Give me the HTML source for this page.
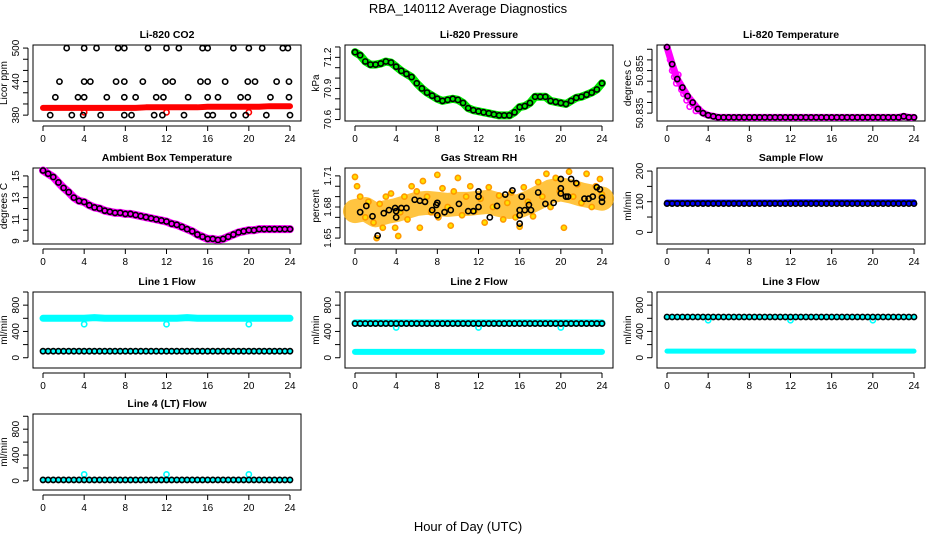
<!DOCTYPE html>
<html><head><meta charset="utf-8">
<style>
html,body{margin:0;padding:0;background:#fff;}
svg{display:block;font-family:"Liberation Sans",sans-serif;}
</style></head>
<body>
<svg id="chart" width="936" height="540" viewBox="0 0 936 540">
<text x="468" y="13" text-anchor="middle" font-size="13">RBA_140112  Average Diagnostics</text>
<text x="468" y="531" text-anchor="middle" font-size="13">Hour of Day (UTC)</text>
</svg>
<script>
const hh=[0,0.5,1,1.5,2,2.5,3,3.5,4,4.5,5,5.5,6,6.5,7,7.5,8,8.5,9,9.5,10,10.5,11,11.5,12,12.5,13,13.5,14,14.5,15,15.5,16,16.5,17,17.5,18,18.5,19,19.5,20,20.5,21,21.5,22,22.5,23,23.5,24];
const hours=[0,1,2,3,4,5,6,7,8,9,10,11,12,13,14,15,16,17,18,19,20,21,22,23,24];
const xTicks=[0,4,8,12,16,20,24];
// CO2
const co2Red=[393,393,393,393,393,393,393,393,393,393,394,394,394,394,394,394,395,395,395,395,395,395,396,396,396];
const co2BlackX=[2.3,4,5.2,7.3,7.9,10.2,12,13.2,15.5,16,18.5,20,21.3,23.3,23.8, 1.6,4,4.6,7.1,7.9,9.7,11.9,12.6,15.3,16,17.7,19.9,20.6,22.7,23.9, 1.2,3.4,4,6.2,7.9,9,11,11.7,14.1,16,17,19.2,19.9,22.1,23.9, 0.7,2.8,3.9,5.6,7.9,8.6,10.8,11.6,13.7,16,16.5,18.5,19.7,21.7,24];
const co2BlackY=[500,500,500,500,500,500,500,500,500,500,500,500,500,500,500, 440,440,440,440,440,440,440,440,440,440,440,440,440,440,440, 412,412,412,412,412,412,412,412,412,412,412,412,412,412,412, 380,380,380,380,380,380,380,380,380,380,380,380,380,380,380];
const co2SpikeX=[4,12,20];
const co2SpikeY=[385,385,385];
// Pressure
const pressure=[71.25,71.22,71.16,71.13,71.13,71.14,71.16,71.15,71.11,71.07,71.04,71.01,70.95,70.9,70.86,70.83,70.8,70.78,70.79,70.8,70.79,70.76,70.71,70.69,70.68,70.67,70.66,70.65,70.64,70.64,70.64,70.67,70.72,70.73,70.76,70.82,70.82,70.82,70.78,70.77,70.76,70.75,70.78,70.81,70.82,70.84,70.86,70.89,70.95];
// Li-820 temperature
const liTemp=[50.866,50.858,50.851,50.847,50.843,50.84,50.837,50.835,50.834,50.8335,50.833,50.833,50.833,50.833,50.833,50.833,50.833,50.833,50.833,50.833,50.833,50.833,50.833,50.833,50.833,50.833,50.833,50.833,50.833,50.833,50.833,50.833,50.833,50.833,50.833,50.833,50.833,50.833,50.833,50.833,50.833,50.833,50.833,50.833,50.833,50.833,50.8335,50.833,50.833];
const liTempScatterX=[0.3,0.5,0.7,0.9,1.1,1.4,1.6,1.9,2.2,2.5,2.8,3.1];
const liTempScatterY=[50.860,50.855,50.852,50.849,50.853,50.846,50.844,50.841,50.838,50.839,50.836,50.837];
// Ambient
const ambient=[15.5,15.2,14.9,14.4,13.9,13.5,13.0,12.7,12.6,12.3,12.1,12.0,11.8,11.7,11.6,11.6,11.5,11.5,11.4,11.3,11.2,11.1,11.0,10.9,10.8,10.6,10.5,10.3,10.1,9.9,9.6,9.4,9.2,9.2,9.1,9.2,9.4,9.6,9.8,9.9,10.0,10.0,10.1,10.1,10.1,10.1,10.1,10.1,10.1];
// RH
const rhMean=[1.676,1.678,1.672,1.675,1.677,1.680,1.683,1.684,1.683,1.682,1.683,1.683,1.684,1.685,1.682,1.680,1.681,1.685,1.690,1.695,1.697,1.695,1.692,1.690,1.688];
const rhOrangeX=[0,0.2,0.5,1,1.3,1.8,2.1,2.4,2.7,3,3.5,3.9,4.2,4.4,4.8,5.1,5.5,6,6.3,6.6,7,7.4,8,8.1,8.5,9,9.3,9.6,10,10.4,10.8,11.2,11.6,12.2,12.6,13,13.4,14,14.4,14.8,15.2,15.6,16,16.4,16.8,17.3,17.8,18.2,18.6,19,19.5,19.9,20.3,20.8,21.2,21.6,22,22.5,23,23.4,23.8,24];
const rhOrangeY=[1.709,1.700,1.690,1.670,1.685,1.665,1.650,1.683,1.660,1.690,1.693,1.660,1.652,1.675,1.690,1.668,1.700,1.695,1.660,1.705,1.690,1.675,1.711,1.670,1.698,1.680,1.662,1.695,1.708,1.672,1.690,1.700,1.676,1.688,1.665,1.699,1.680,1.691,1.668,1.684,1.694,1.670,1.661,1.699,1.685,1.671,1.704,1.690,1.712,1.680,1.708,1.695,1.660,1.714,1.690,1.702,1.684,1.712,1.680,1.700,1.707,1.692];
const rhBlackX=[0.5,1.1,1.7,2.2,2.8,3.3,3.9,4.0,4.0,4.5,5.0,5.8,6.3,6.8,7.5,7.9,8.0,8.0,8.7,9.3,10.1,11.0,11.5,12,12,12,13.1,13.8,14.6,15.3,16.0,16.5,17.1,16,16,16.2,16.9,17.8,18.5,19.3,20.0,20.5,20.7,20.0,20.0,21.0,21.5,22.3,22.7,23.1,23.5,23.8,24.0,24.0];
const rhBlackY=[1.675,1.681,1.671,1.6525,1.674,1.677,1.679,1.676,1.670,1.679,1.679,1.687,1.686,1.685,1.677,1.682,1.684,1.672,1.675,1.677,1.683,1.676,1.676,1.690,1.695,1.680,1.670,1.681,1.692,1.696,1.677,1.677,1.677,1.672,1.664,1.690,1.682,1.694,1.683,1.684,1.693,1.690,1.690,1.707,1.698,1.707,1.703,1.688,1.688,1.690,1.699,1.697,1.689,1.685];
// Flows (hourly)
const sampleBlue=[97,97,97,97,97,97,97,97,97,97,97,97,98,98,98,98,98,98,98,98,98,98,98,98,98];
const sampleBlack=[94,94,94,94,94,94,94,94,94,94,94,94,94,94,94,94,94,94,94,94,94,94,94,94,94,94,94,94,94,94,94,94,94,94,94,94,94,94,94,94,94,94,94,94,94,94,94,94,94];
const line1Cyan=[600,600,600,600,600,610,600,600,600,600,600,600,600,600,610,600,600,600,600,600,600,600,600,600,600];
const line1Black=[100,100,100,100,100,100,100,100,100,100,100,100,100,100,100,100,100,100,100,100,100,100,100,100,100,100,100,100,100,100,100,100,100,100,100,100,100,100,100,100,100,100,100,100,100,100,100,100,100];
const line2Cyan=[530,530,530,530,530,530,530,530,530,530,530,530,530,530,530,530,530,530,530,530,530,530,530,530,530];
const line2Black=[520,520,520,520,520,520,520,520,520,520,520,520,520,520,520,520,520,520,520,520,520,520,520,520,520,520,520,520,520,520,520,520,520,520,520,520,520,520,520,520,520,520,520,520,520,520,520,520,520];
const line2Low=[90,90,90,90,90,90,90,90,90,90,90,90,90,90,90,90,90,90,90,90,90,90,90,90,90];
const line3Black=[620,620,620,620,620,620,620,620,620,620,620,620,620,620,620,620,620,620,620,620,620,620,620,620,620,620,620,620,620,620,620,620,620,620,620,620,620,620,620,620,620,620,620,620,620,620,620,620,620];
const line3Low=[100,100,100,100,100,100,100,100,100,100,100,100,100,100,100,100,100,100,100,100,100,100,100,100,100];
const line4Black=[15,15,15,15,15,15,15,15,15,15,15,15,15,15,15,15,15,15,15,15,15,15,15,15,15,15,15,15,15,15,15,15,15,15,15,15,15,15,15,15,15,15,15,15,15,15,15,15,15];
const dipX=[4,12,20];
const line1Dip=[510,510,510];
const line2Dip=[460,460,460];
const line3Dip=[570,570,570];
const line4Spike=[100,100,100];

const NS="http://www.w3.org/2000/svg";
const svg=document.getElementById('chart');
function mk(tag,attrs,parent){const e=document.createElementNS(NS,tag);for(const k in attrs)e.setAttribute(k,attrs[k]);(parent||svg).appendChild(e);return e;}
const ROWTOP=[45,168,292,414], BH=76, COLX=[33,345,657], BW=268;
function panel(col,row,title,yl,yb,yt,ticks,labels,slug){
  const g=mk('g',{});
  
  
  const L=COLX[col],T=ROWTOP[row],B=T+BH;
  const xs=h=>L+10+h*247/24;
  const ys=v=>B-(v-yb)/(yt-yb)*BH;
  const r=mk('rect',{x:L,y:T,width:BW,height:BH,fill:'none',stroke:'#000','stroke-width':1},g);
  
  
  const tt=mk('text',{x:L+BW/2,y:T-7,'text-anchor':'middle','font-size':10.5,'font-weight':'bold'},g);tt.textContent=title;
  
  
  mk('line',{x1:xs(0),x2:xs(24),y1:B+5,y2:B+5,stroke:'#000'},g);
  xTicks.forEach(h=>{mk('line',{x1:xs(h),x2:xs(h),y1:B+5,y2:B+10,stroke:'#000'},g);
    const t=mk('text',{x:xs(h),y:B+21,'text-anchor':'middle','font-size':10},g);t.textContent=h;
    
    });
  mk('line',{x1:L-5,x2:L-5,y1:ys(ticks[0]),y2:ys(ticks[ticks.length-1]),stroke:'#000'},g);
  ticks.forEach(v=>mk('line',{x1:L-10,x2:L-5,y1:ys(v),y2:ys(v),stroke:'#000'},g));
  labels.forEach(v=>{const t=mk('text',{x:0,y:0,'text-anchor':'middle','font-size':10,transform:`translate(${L-14},${ys(v)}) rotate(-90)`},g);t.textContent=v;
    
    });
  const yt2=mk('text',{x:0,y:0,'text-anchor':'middle','font-size':10,transform:`translate(${L-26},${T+BH/2}) rotate(-90)`},g);yt2.textContent=yl;
  
  
  return {g,xs,ys,
    band(X,Y,c,w,op){const p=mk('polyline',{points:X.map((x,i)=>xs(x)+','+ys(Y[i])).join(' '),fill:'none',stroke:c,'stroke-width':w,'stroke-linejoin':'round','stroke-linecap':'round','stroke-opacity':op||1},g);
      
      },
    pts(X,Y,c,rad,fill){X.forEach((x,i)=>{const e=mk('circle',{cx:xs(x),cy:ys(Y[i]),r:rad||2.6,fill:fill||'none',stroke:c,'stroke-width':1.6},g);
      
      });}
  };
}
let p;
p=panel(0,0,'Li-820 CO2','Licor ppm',369.5,505.5,[380,400,420,440,460,480,500],[380,440,500],'co2');
p.band(hours,co2Red,'#ff0000',6);p.pts(co2SpikeX,co2SpikeY,'#ff0000');p.pts(co2BlackX,co2BlackY,'#000');
p=panel(1,0,'Li-820 Pressure','kPa',70.586,71.319,[70.6,70.7,70.8,70.9,71.0,71.1,71.2,71.3],[70.6,70.9,71.2],'pressure');
p.band(hh,pressure,'#00ee00',8);p.pts(hh,pressure,'#000');
p=panel(2,0,'Li-820 Temperature','degrees C',50.8313,50.867,[50.835,50.84,50.845,50.85,50.855,50.86,50.865],[50.835,50.855],'li-temp');
p.band(hh,liTemp,'#ff00ff',7);p.pts(liTempScatterX,liTempScatterY,'#ff00ff');p.pts(hh,liTemp,'#000');
p=panel(0,1,'Ambient Box Temperature','degrees C',8.73,15.73,[9,10,11,12,13,14,15],[9,11,13,15],'ambient');
p.band(hh,ambient,'#ff00ff',8);p.pts(hh,ambient,'#000');
p=panel(1,1,'Gas Stream RH','percent',1.6443,1.7176,[1.65,1.66,1.67,1.68,1.69,1.70,1.71],[1.65,1.68,1.71],'rh');
p.band(hours,rhMean,'#ffb000',24,0.75);p.pts(rhOrangeX,rhOrangeY,'#ff9900',2.6,'#ffe000');p.pts(rhBlackX,rhBlackY,'#000');
p=panel(2,1,'Sample Flow','ml/min',-38,210,[0,50,100,150,200],[0,100,200],'sample-flow');
p.band(hours,sampleBlue,'#0000ff',6);p.pts(hh,sampleBlack,'#000');
p=panel(0,2,'Line 1 Flow','ml/min',-156,1000,[0,200,400,600,800,1000],[0,400,800],'line1-flow');
p.band(hours,line1Cyan,'#00ffff',7);p.pts(dipX,line1Dip,'#00ffff');p.band(hh,line1Black,'#00ffff',5);p.pts(hh,line1Black,'#000');
p=panel(1,2,'Line 2 Flow','ml/min',-156,1000,[0,200,400,600,800,1000],[0,400,800],'line2-flow');
p.band(hours,line2Cyan,'#00ffff',7);p.pts(dipX,line2Dip,'#00ffff');p.band(hours,line2Low,'#00ffff',6);p.pts(hh,line2Black,'#000');
p=panel(2,2,'Line 3 Flow','ml/min',-156,1000,[0,200,400,600,800,1000],[0,400,800],'line3-flow');
p.band(hh,line3Black,'#00ffff',5);p.pts(dipX,line3Dip,'#00ffff');p.band(hours,line3Low,'#00ffff',5);p.pts(hh,line3Black,'#000');
p=panel(0,3,'Line 4 (LT) Flow','ml/min',-141,1035,[0,200,400,600,800,1000],[0,400,800],'line4-flow');
p.band(hh,line4Black,'#00ffff',4);p.pts(dipX,line4Spike,'#00ffff');p.pts(hh,line4Black,'#000');
</script>
</body></html>
